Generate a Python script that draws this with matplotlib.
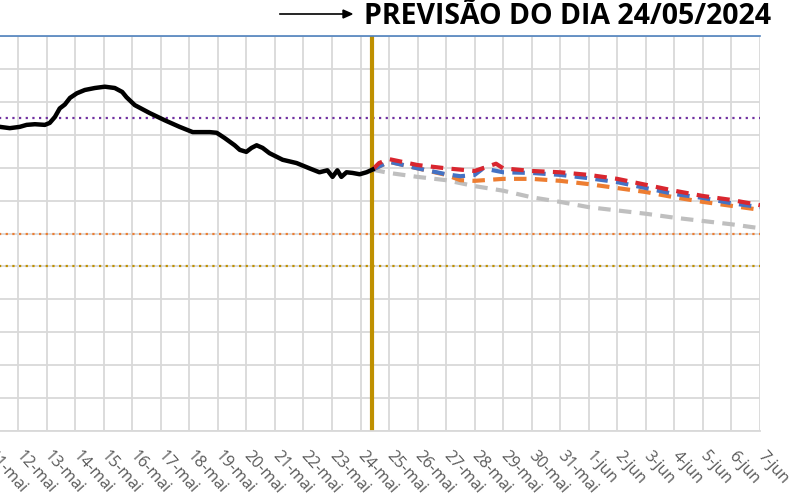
import matplotlib.pyplot as plt

# x values are "day of May" (32 = 1-jun), y values are level in metres
obs_day = [11.36, 11.71, 12.06, 12.3, 12.59, 12.94, 13.11, 13.29, 13.46, 13.64, 13.82,
           14.06, 14.34, 14.69, 15.04, 15.39, 15.65, 15.8, 16.09, 16.61, 17.14, 17.66,
           18.12, 18.37, 18.72, 18.96, 19.24, 19.59, 19.77, 20.0, 20.18, 20.36, 20.57,
           20.81, 21.27, 21.76, 22.21, 22.56, 22.84, 23.02, 23.19, 23.33, 23.51, 23.72,
           23.97, 24.21, 24.42]
obs_val = [4.62, 4.60, 4.62, 4.65, 4.66, 4.65, 4.68, 4.77, 4.90, 4.96, 5.06,
           5.13, 5.18, 5.21, 5.23, 5.21, 5.15, 5.07, 4.95, 4.83, 4.72, 4.62,
           4.54, 4.54, 4.54, 4.53, 4.45, 4.34, 4.27, 4.24, 4.30, 4.34, 4.30,
           4.22, 4.12, 4.07, 3.99, 3.93, 3.96, 3.86, 3.96, 3.86, 3.93, 3.92,
           3.90, 3.93, 3.97]

red_day = [24.42, 24.65, 25, 26, 27, 28, 28.75, 29, 30, 31, 32, 33, 34, 35, 36, 37, 38]
red_val = [3.97, 4.07, 4.13, 4.04, 3.99, 3.95, 4.06, 3.99, 3.95, 3.93, 3.89, 3.83,
           3.74, 3.65, 3.57, 3.51, 3.43]

blue_day = [24.42, 25, 26, 27, 27.5, 28, 28.3, 29, 30, 31, 32, 33, 34, 35, 36, 37, 38]
blue_val = [3.97, 4.09, 3.99, 3.90, 3.87, 3.89, 3.99, 3.93, 3.92, 3.89, 3.84, 3.78,
            3.69, 3.60, 3.54, 3.46, 3.40]

orange_day = [24.42, 25, 26, 27, 27.5, 28, 29, 30, 31, 32, 33, 34, 35, 36, 37, 38]
orange_val = [3.97, 4.09, 3.99, 3.89, 3.81, 3.80, 3.83, 3.83, 3.80, 3.75, 3.69,
              3.63, 3.55, 3.48, 3.42, 3.36]

gray_day = [24.42, 24.65, 25, 26, 27, 28, 29, 30, 31, 32, 33, 34, 35, 36, 37, 38]
gray_val = [3.97, 3.95, 3.92, 3.86, 3.81, 3.72, 3.65, 3.55, 3.48, 3.40, 3.35,
            3.30, 3.24, 3.19, 3.14, 3.08]

# reference levels: 1941 flood, flood level, alert level
ref_levels = [4.76, 3.00, 2.50]
ref_colors = ['#7030a0', '#ed7d31', '#bf9000']

forecast_start = 24.42
tick_days = list(range(11, 39))
tick_labels = [f'{d}-mai' if d <= 31 else f'{d - 31}-jun' for d in tick_days]

fig = plt.figure(figsize=(8, 5), dpi=100)
ax = fig.add_axes([-39 / 800, 1 - 431 / 500, 799 / 800, 395 / 500])

ax.set_xlim(10, 38)
ax.set_ylim(0, 6)
ax.set_yticks([i * 0.5 for i in range(13)])
ax.set_xticks(tick_days)
ax.set_xticklabels(tick_labels, rotation=-48, rotation_mode='anchor',
                   ha='left', va='center', fontsize=11.5, color='#595959',
                   family='Open Sans')
ax.tick_params(length=0, pad=16, labelleft=False)
ax.grid(True, color='#d9d9d9', linewidth=1.3)
ax.set_axisbelow(True)

for s in ['left', 'right']:
    ax.spines[s].set_visible(False)
ax.spines['top'].set_color('#4f81bd')
ax.spines['top'].set_linewidth(1.2)
ax.spines['bottom'].set_color('#d9d9d9')
ax.spines['bottom'].set_linewidth(1.3)

for lvl, c in zip(ref_levels, ref_colors):
    ax.axhline(lvl, color=c, linestyle=(0, (1, 2)), linewidth=1.6)

ax.axvline(forecast_start, color='#bf9000', linewidth=3)

dash = (0, (3, 2))
ax.plot(gray_day, gray_val, color='#bfbfbf', linewidth=3, linestyle=dash)
ax.plot(orange_day, orange_val, color='#ed7d31', linewidth=3, linestyle=dash)
ax.plot(blue_day, blue_val, color='#4472c4', linewidth=3, linestyle=dash)
ax.plot(red_day, red_val, color='#d9262f', linewidth=3, linestyle=dash)
ax.plot(obs_day, obs_val, color='black', linewidth=3.2)

# title with arrow
fig.text(364 / 800, 1 - 16 / 500, 'PREVISÃO DO DIA 24/05/2024', fontsize=20.5,
         fontweight='bold', family='Open Sans', va='center', ha='left')
fig.add_artist(plt.Line2D([280 / 800, 345 / 800], [1 - 14 / 500, 1 - 14 / 500],
                          color='black', linewidth=1.2))
fig.patches.append(plt.Polygon([[343 / 800, 1 - 10 / 500], [352 / 800, 1 - 14 / 500],
                                [343 / 800, 1 - 18 / 500]], closed=True,
                               color='black', transform=fig.transFigure))

fig.savefig('out.png', dpi=100)
